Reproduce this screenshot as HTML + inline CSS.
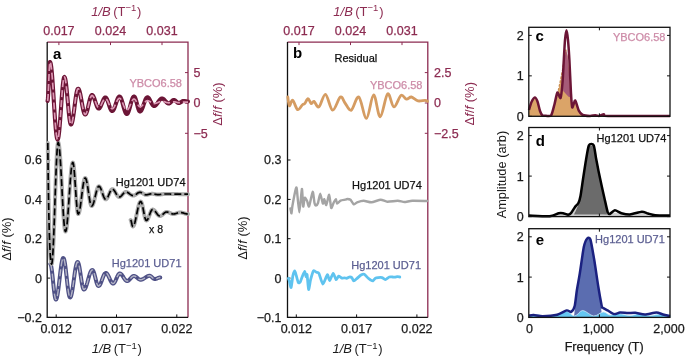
<!DOCTYPE html>
<html><head><meta charset="utf-8"><style>
html,body{margin:0;padding:0;background:#fff;width:685px;height:356px;overflow:hidden;}
svg{display:block;will-change:transform;}
text{font-family:"Liberation Sans", sans-serif;}
</style></head><body>
<svg width="685" height="356" viewBox="0 0 685 356" font-family='"Liberation Sans", sans-serif'><path d="M47.2 42.1 H188 V317.4" fill="none" stroke="#8c2b51" stroke-width="1.3"/>
<path d="M47.2 42.1 V317.4 H188" fill="none" stroke="#111" stroke-width="1.3"/>
<path d="M47.2 160 h3" stroke="#111" stroke-width="1"/>
<path d="M47.2 199.4 h3" stroke="#111" stroke-width="1"/>
<path d="M47.2 238.7 h3" stroke="#111" stroke-width="1"/>
<path d="M47.2 278.1 h3" stroke="#111" stroke-width="1"/>
<path d="M47.2 317.4 h3" stroke="#111" stroke-width="1"/>
<path d="M56.2 317.4 v-3" stroke="#111" stroke-width="1"/>
<path d="M116.5 317.4 v-3" stroke="#111" stroke-width="1"/>
<path d="M176.8 317.4 v-3" stroke="#111" stroke-width="1"/>
<path d="M58.9 42.1 v3" stroke="#8c2b51" stroke-width="1"/>
<path d="M110.5 42.1 v3" stroke="#8c2b51" stroke-width="1"/>
<path d="M162 42.1 v3" stroke="#8c2b51" stroke-width="1"/>
<path d="M188 72.6 h-3" stroke="#8c2b51" stroke-width="1"/>
<path d="M188 103 h-3" stroke="#8c2b51" stroke-width="1"/>
<path d="M188 133.3 h-3" stroke="#8c2b51" stroke-width="1"/>
<path d="M50.3 264 L50.65 264.34 L51 265.35 L51.35 266.99 L51.7 269.2 L52.05 271.89 L52.4 274.96 L52.75 278.29 L53.1 281.75 L53.45 285.21 L53.8 288.54 L54.15 291.61 L54.5 294.3 L54.85 296.51 L55.2 298.15 L55.55 299.16 L55.9 299.5 L56.25 299.27 L56.6 298.58 L56.96 297.45 L57.31 295.89 L57.66 293.96 L58.01 291.69 L58.37 289.12 L58.72 286.33 L59.07 283.37 L59.42 280.3 L59.78 277.2 L60.13 274.13 L60.48 271.17 L60.83 268.38 L61.19 265.81 L61.54 263.54 L61.89 261.61 L62.24 260.05 L62.6 258.92 L62.95 258.23 L63.3 258 L63.66 258.27 L64.02 259.07 L64.37 260.38 L64.73 262.16 L65.09 264.37 L65.45 266.95 L65.81 269.82 L66.16 272.9 L66.52 276.12 L66.88 279.38 L67.24 282.6 L67.59 285.68 L67.95 288.55 L68.31 291.13 L68.67 293.34 L69.03 295.12 L69.38 296.43 L69.74 297.23 L70.1 297.5 L70.46 297.3 L70.81 296.71 L71.17 295.74 L71.53 294.42 L71.89 292.76 L72.24 290.82 L72.6 288.62 L72.96 286.23 L73.31 283.7 L73.67 281.08 L74.03 278.42 L74.39 275.8 L74.74 273.27 L75.1 270.88 L75.46 268.68 L75.81 266.74 L76.17 265.08 L76.53 263.76 L76.89 262.79 L77.24 262.2 L77.6 262 L77.95 262.21 L78.3 262.83 L78.65 263.84 L79 265.22 L79.35 266.91 L79.7 268.88 L80.05 271.05 L80.4 273.36 L80.75 275.75 L81.1 278.14 L81.45 280.45 L81.8 282.62 L82.15 284.59 L82.5 286.28 L82.85 287.66 L83.2 288.67 L83.55 289.29 L83.9 289.5 L84.27 289.41 L84.63 289.14 L85 288.69 L85.36 288.08 L85.73 287.31 L86.09 286.4 L86.46 285.37 L86.82 284.24 L87.19 283.02 L87.55 281.73 L87.92 280.42 L88.28 279.08 L88.65 277.77 L89.01 276.48 L89.38 275.26 L89.74 274.13 L90.11 273.1 L90.47 272.19 L90.84 271.42 L91.2 270.81 L91.57 270.36 L91.93 270.09 L92.3 270 L92.66 270.14 L93.03 270.54 L93.39 271.2 L93.76 272.09 L94.12 273.18 L94.49 274.43 L94.85 275.81 L95.22 277.26 L95.58 278.74 L95.95 280.19 L96.31 281.57 L96.68 282.82 L97.04 283.91 L97.41 284.8 L97.77 285.46 L98.14 285.86 L98.5 286 L98.86 285.92 L99.23 285.68 L99.59 285.29 L99.96 284.76 L100.33 284.1 L100.69 283.32 L101.05 282.45 L101.42 281.51 L101.78 280.52 L102.15 279.5 L102.52 278.48 L102.88 277.49 L103.25 276.55 L103.61 275.68 L103.97 274.9 L104.34 274.24 L104.7 273.71 L105.07 273.32 L105.44 273.08 L105.8 273 L106.16 273.06 L106.53 273.26 L106.89 273.57 L107.26 274 L107.62 274.54 L107.99 275.16 L108.35 275.87 L108.72 276.63 L109.08 277.43 L109.45 278.25 L109.81 279.07 L110.18 279.87 L110.55 280.63 L110.91 281.34 L111.27 281.96 L111.64 282.5 L112 282.93 L112.37 283.24 L112.73 283.44 L113.1 283.5 L113.45 283.43 L113.81 283.23 L114.16 282.9 L114.51 282.45 L114.86 281.89 L115.22 281.23 L115.57 280.51 L115.92 279.73 L116.27 278.91 L116.63 278.09 L116.98 277.27 L117.33 276.49 L117.68 275.77 L118.04 275.11 L118.39 274.55 L118.74 274.1 L119.09 273.77 L119.45 273.57 L119.8 273.5 L120.16 273.55 L120.53 273.68 L120.89 273.91 L121.26 274.22 L121.62 274.6 L121.99 275.05 L122.35 275.55 L122.72 276.09 L123.08 276.66 L123.45 277.25 L123.81 277.84 L124.18 278.41 L124.55 278.95 L124.91 279.45 L125.27 279.9 L125.64 280.28 L126 280.59 L126.37 280.82 L126.73 280.95 L127.1 281 L127.46 280.97 L127.82 280.86 L128.17 280.7 L128.53 280.47 L128.89 280.19 L129.25 279.87 L129.61 279.5 L129.96 279.11 L130.32 278.71 L130.68 278.29 L131.04 277.89 L131.39 277.5 L131.75 277.13 L132.11 276.81 L132.47 276.53 L132.83 276.3 L133.18 276.14 L133.54 276.03 L133.9 276 L134.25 276.03 L134.61 276.1 L134.96 276.22 L135.31 276.39 L135.66 276.6 L136.02 276.84 L136.37 277.11 L136.72 277.4 L137.07 277.7 L137.43 278 L137.78 278.3 L138.13 278.59 L138.48 278.86 L138.84 279.1 L139.19 279.31 L139.54 279.48 L139.89 279.6 L140.25 279.67 L140.6 279.7 L140.96 279.68 L141.32 279.64 L141.68 279.56 L142.04 279.46 L142.4 279.33 L142.76 279.17 L143.12 278.99 L143.48 278.79 L143.84 278.58 L144.2 278.35 L144.56 278.12 L144.92 277.87 L145.28 277.63 L145.64 277.38 L146 277.15 L146.36 276.92 L146.72 276.71 L147.08 276.51 L147.44 276.33 L147.8 276.17 L148.16 276.04 L148.52 275.94 L148.88 275.86 L149.24 275.82 L149.6 275.8 L149.96 275.84 L150.33 275.96 L150.69 276.15 L151.06 276.4 L151.42 276.71 L151.79 277.04 L152.15 277.4 L152.51 277.76 L152.88 278.09 L153.24 278.4 L153.61 278.65 L153.97 278.84 L154.34 278.96 L154.7 279 L155.05 278.99 L155.4 278.94 L155.75 278.87 L156.1 278.78 L156.45 278.67 L156.8 278.54 L157.15 278.4 L157.5 278.25 L157.85 278.1 L158.2 277.96 L158.55 277.83 L158.9 277.72 L159.25 277.63 L159.6 277.56 L159.95 277.51 L160.3 277.5" fill="none" stroke="#4f5186" stroke-width="4.0" stroke-linejoin="round" stroke-linecap="round"/>
<path d="M50.3 264 L50.65 264.34 L51 265.35 L51.35 266.99 L51.7 269.2 L52.05 271.89 L52.4 274.96 L52.75 278.29 L53.1 281.75 L53.45 285.21 L53.8 288.54 L54.15 291.61 L54.5 294.3 L54.85 296.51 L55.2 298.15 L55.55 299.16 L55.9 299.5 L56.25 299.27 L56.6 298.58 L56.96 297.45 L57.31 295.89 L57.66 293.96 L58.01 291.69 L58.37 289.12 L58.72 286.33 L59.07 283.37 L59.42 280.3 L59.78 277.2 L60.13 274.13 L60.48 271.17 L60.83 268.38 L61.19 265.81 L61.54 263.54 L61.89 261.61 L62.24 260.05 L62.6 258.92 L62.95 258.23 L63.3 258 L63.66 258.27 L64.02 259.07 L64.37 260.38 L64.73 262.16 L65.09 264.37 L65.45 266.95 L65.81 269.82 L66.16 272.9 L66.52 276.12 L66.88 279.38 L67.24 282.6 L67.59 285.68 L67.95 288.55 L68.31 291.13 L68.67 293.34 L69.03 295.12 L69.38 296.43 L69.74 297.23 L70.1 297.5 L70.46 297.3 L70.81 296.71 L71.17 295.74 L71.53 294.42 L71.89 292.76 L72.24 290.82 L72.6 288.62 L72.96 286.23 L73.31 283.7 L73.67 281.08 L74.03 278.42 L74.39 275.8 L74.74 273.27 L75.1 270.88 L75.46 268.68 L75.81 266.74 L76.17 265.08 L76.53 263.76 L76.89 262.79 L77.24 262.2 L77.6 262 L77.95 262.21 L78.3 262.83 L78.65 263.84 L79 265.22 L79.35 266.91 L79.7 268.88 L80.05 271.05 L80.4 273.36 L80.75 275.75 L81.1 278.14 L81.45 280.45 L81.8 282.62 L82.15 284.59 L82.5 286.28 L82.85 287.66 L83.2 288.67 L83.55 289.29 L83.9 289.5 L84.27 289.41 L84.63 289.14 L85 288.69 L85.36 288.08 L85.73 287.31 L86.09 286.4 L86.46 285.37 L86.82 284.24 L87.19 283.02 L87.55 281.73 L87.92 280.42 L88.28 279.08 L88.65 277.77 L89.01 276.48 L89.38 275.26 L89.74 274.13 L90.11 273.1 L90.47 272.19 L90.84 271.42 L91.2 270.81 L91.57 270.36 L91.93 270.09 L92.3 270 L92.66 270.14 L93.03 270.54 L93.39 271.2 L93.76 272.09 L94.12 273.18 L94.49 274.43 L94.85 275.81 L95.22 277.26 L95.58 278.74 L95.95 280.19 L96.31 281.57 L96.68 282.82 L97.04 283.91 L97.41 284.8 L97.77 285.46 L98.14 285.86 L98.5 286 L98.86 285.92 L99.23 285.68 L99.59 285.29 L99.96 284.76 L100.33 284.1 L100.69 283.32 L101.05 282.45 L101.42 281.51 L101.78 280.52 L102.15 279.5 L102.52 278.48 L102.88 277.49 L103.25 276.55 L103.61 275.68 L103.97 274.9 L104.34 274.24 L104.7 273.71 L105.07 273.32 L105.44 273.08 L105.8 273 L106.16 273.06 L106.53 273.26 L106.89 273.57 L107.26 274 L107.62 274.54 L107.99 275.16 L108.35 275.87 L108.72 276.63 L109.08 277.43 L109.45 278.25 L109.81 279.07 L110.18 279.87 L110.55 280.63 L110.91 281.34 L111.27 281.96 L111.64 282.5 L112 282.93 L112.37 283.24 L112.73 283.44 L113.1 283.5 L113.45 283.43 L113.81 283.23 L114.16 282.9 L114.51 282.45 L114.86 281.89 L115.22 281.23 L115.57 280.51 L115.92 279.73 L116.27 278.91 L116.63 278.09 L116.98 277.27 L117.33 276.49 L117.68 275.77 L118.04 275.11 L118.39 274.55 L118.74 274.1 L119.09 273.77 L119.45 273.57 L119.8 273.5 L120.16 273.55 L120.53 273.68 L120.89 273.91 L121.26 274.22 L121.62 274.6 L121.99 275.05 L122.35 275.55 L122.72 276.09 L123.08 276.66 L123.45 277.25 L123.81 277.84 L124.18 278.41 L124.55 278.95 L124.91 279.45 L125.27 279.9 L125.64 280.28 L126 280.59 L126.37 280.82 L126.73 280.95 L127.1 281 L127.46 280.97 L127.82 280.86 L128.17 280.7 L128.53 280.47 L128.89 280.19 L129.25 279.87 L129.61 279.5 L129.96 279.11 L130.32 278.71 L130.68 278.29 L131.04 277.89 L131.39 277.5 L131.75 277.13 L132.11 276.81 L132.47 276.53 L132.83 276.3 L133.18 276.14 L133.54 276.03 L133.9 276 L134.25 276.03 L134.61 276.1 L134.96 276.22 L135.31 276.39 L135.66 276.6 L136.02 276.84 L136.37 277.11 L136.72 277.4 L137.07 277.7 L137.43 278 L137.78 278.3 L138.13 278.59 L138.48 278.86 L138.84 279.1 L139.19 279.31 L139.54 279.48 L139.89 279.6 L140.25 279.67 L140.6 279.7 L140.96 279.68 L141.32 279.64 L141.68 279.56 L142.04 279.46 L142.4 279.33 L142.76 279.17 L143.12 278.99 L143.48 278.79 L143.84 278.58 L144.2 278.35 L144.56 278.12 L144.92 277.87 L145.28 277.63 L145.64 277.38 L146 277.15 L146.36 276.92 L146.72 276.71 L147.08 276.51 L147.44 276.33 L147.8 276.17 L148.16 276.04 L148.52 275.94 L148.88 275.86 L149.24 275.82 L149.6 275.8 L149.96 275.84 L150.33 275.96 L150.69 276.15 L151.06 276.4 L151.42 276.71 L151.79 277.04 L152.15 277.4 L152.51 277.76 L152.88 278.09 L153.24 278.4 L153.61 278.65 L153.97 278.84 L154.34 278.96 L154.7 279 L155.05 278.99 L155.4 278.94 L155.75 278.87 L156.1 278.78 L156.45 278.67 L156.8 278.54 L157.15 278.4 L157.5 278.25 L157.85 278.1 L158.2 277.96 L158.55 277.83 L158.9 277.72 L159.25 277.63 L159.6 277.56 L159.95 277.51 L160.3 277.5" fill="none" stroke="#b4b5c6" stroke-width="1.4" stroke-dasharray="7 3" stroke-linejoin="round"/>
<path d="M47.8 143 L47.8 143.19 L47.81 143.74 L47.81 144.67 L47.82 145.96 L47.84 147.61 L47.86 149.59 L47.88 151.92 L47.91 154.55 L47.94 157.5 L47.98 160.72 L48.02 164.21 L48.07 167.94 L48.12 171.89 L48.18 176.03 L48.24 180.35 L48.31 184.8 L48.38 189.38 L48.46 194.04 L48.54 198.75 L48.63 203.5 L48.72 208.25 L48.82 212.96 L48.92 217.62 L49.04 222.2 L49.15 226.65 L49.27 230.97 L49.4 235.11 L49.53 239.06 L49.67 242.79 L49.82 246.28 L49.97 249.5 L50.13 252.45 L50.29 255.08 L50.46 257.41 L50.63 259.39 L50.81 261.04 L51 262.33 L51.19 263.26 L51.39 263.81 L51.6 264 L51.77 263.81 L51.93 263.25 L52.09 262.32 L52.26 261.03 L52.43 259.38 L52.59 257.38 L52.76 255.05 L52.92 252.4 L53.09 249.44 L53.25 246.21 L53.41 242.7 L53.58 238.96 L53.75 234.99 L53.91 230.83 L54.08 226.5 L54.24 222.02 L54.41 217.43 L54.57 212.75 L54.73 208.02 L54.9 203.25 L55.07 198.48 L55.23 193.75 L55.4 189.07 L55.56 184.48 L55.73 180 L55.89 175.67 L56.05 171.51 L56.22 167.54 L56.39 163.8 L56.55 160.29 L56.72 157.06 L56.88 154.1 L57.05 151.45 L57.21 149.12 L57.38 147.12 L57.54 145.47 L57.71 144.18 L57.87 143.25 L58.04 142.69 L58.2 142.5 L58.45 142.76 L58.7 143.54 L58.96 144.83 L59.21 146.61 L59.46 148.87 L59.71 151.57 L59.96 154.69 L60.21 158.19 L60.47 162.03 L60.72 166.16 L60.97 170.53 L61.22 175.09 L61.47 179.8 L61.72 184.59 L61.98 189.41 L62.23 194.2 L62.48 198.91 L62.73 203.47 L62.98 207.84 L63.23 211.97 L63.49 215.81 L63.74 219.31 L63.99 222.43 L64.24 225.13 L64.49 227.39 L64.74 229.17 L65 230.46 L65.25 231.24 L65.5 231.5 L65.82 231.18 L66.13 230.22 L66.45 228.64 L66.77 226.48 L67.09 223.76 L67.4 220.55 L67.72 216.9 L68.04 212.87 L68.36 208.55 L68.67 204.02 L68.99 199.35 L69.31 194.65 L69.63 189.98 L69.94 185.45 L70.26 181.13 L70.58 177.1 L70.9 173.45 L71.21 170.24 L71.53 167.52 L71.85 165.36 L72.17 163.78 L72.48 162.82 L72.8 162.5 L73.12 162.94 L73.44 164.24 L73.75 166.36 L74.07 169.22 L74.39 172.73 L74.71 176.77 L75.02 181.2 L75.34 185.87 L75.66 190.63 L75.98 195.3 L76.29 199.73 L76.61 203.77 L76.93 207.28 L77.25 210.14 L77.56 212.26 L77.88 213.56 L78.2 214 L78.55 213.78 L78.9 213.12 L79.25 212.04 L79.6 210.56 L79.95 208.73 L80.3 206.58 L80.65 204.17 L81 201.56 L81.35 198.82 L81.7 196 L82.05 193.18 L82.4 190.44 L82.75 187.83 L83.1 185.42 L83.45 183.27 L83.8 181.44 L84.15 179.96 L84.5 178.88 L84.85 178.22 L85.2 178 L85.56 178.21 L85.92 178.84 L86.28 179.88 L86.64 181.28 L87.01 183 L87.37 185 L87.73 187.21 L88.09 189.57 L88.45 192 L88.81 194.43 L89.17 196.79 L89.53 199 L89.89 201 L90.26 202.72 L90.62 204.12 L90.98 205.16 L91.34 205.79 L91.7 206 L92.06 205.88 L92.42 205.52 L92.78 204.93 L93.14 204.12 L93.5 203.12 L93.86 201.94 L94.22 200.62 L94.58 199.19 L94.94 197.69 L95.3 196.15 L95.66 194.61 L96.02 193.11 L96.38 191.68 L96.74 190.36 L97.1 189.18 L97.46 188.18 L97.82 187.37 L98.18 186.78 L98.54 186.42 L98.9 186.3 L99.26 186.39 L99.62 186.65 L99.97 187.08 L100.33 187.67 L100.69 188.4 L101.05 189.24 L101.41 190.19 L101.76 191.2 L102.12 192.26 L102.48 193.34 L102.84 194.4 L103.19 195.41 L103.55 196.36 L103.91 197.2 L104.27 197.93 L104.63 198.52 L104.98 198.95 L105.34 199.21 L105.7 199.3 L106.05 199.23 L106.41 199.03 L106.76 198.69 L107.11 198.24 L107.46 197.67 L107.82 197.01 L108.17 196.28 L108.52 195.49 L108.87 194.67 L109.23 193.83 L109.58 193.01 L109.93 192.22 L110.28 191.49 L110.64 190.83 L110.99 190.26 L111.34 189.81 L111.69 189.47 L112.05 189.27 L112.4 189.2 L112.76 189.25 L113.12 189.41 L113.47 189.67 L113.83 190.02 L114.19 190.46 L114.55 190.97 L114.91 191.53 L115.26 192.14 L115.62 192.78 L115.98 193.42 L116.34 194.06 L116.69 194.67 L117.05 195.23 L117.41 195.74 L117.77 196.18 L118.13 196.53 L118.48 196.79 L118.84 196.95 L119.2 197 L119.55 196.97 L119.91 196.86 L120.26 196.7 L120.61 196.47 L120.96 196.19 L121.32 195.87 L121.67 195.5 L122.02 195.11 L122.37 194.71 L122.73 194.29 L123.08 193.89 L123.43 193.5 L123.78 193.13 L124.14 192.81 L124.49 192.53 L124.84 192.3 L125.19 192.14 L125.55 192.03 L125.9 192 L126.27 192.02 L126.63 192.09 L127 192.2 L127.36 192.34 L127.72 192.53 L128.09 192.74 L128.46 192.98 L128.82 193.24 L129.19 193.52 L129.55 193.8 L129.91 194.08 L130.28 194.36 L130.64 194.62 L131.01 194.86 L131.38 195.07 L131.74 195.26 L132.1 195.4 L132.47 195.51 L132.83 195.58 L133.2 195.6 L133.56 195.58 L133.92 195.51 L134.27 195.4 L134.63 195.25 L134.99 195.07 L135.35 194.85 L135.71 194.61 L136.06 194.36 L136.42 194.09 L136.78 193.81 L137.14 193.54 L137.49 193.29 L137.85 193.05 L138.21 192.83 L138.57 192.65 L138.93 192.5 L139.28 192.39 L139.64 192.32 L140 192.3 L140.35 192.32 L140.71 192.38 L141.06 192.49 L141.41 192.63 L141.76 192.8 L142.12 192.99 L142.47 193.21 L142.82 193.43 L143.18 193.67 L143.53 193.89 L143.88 194.11 L144.24 194.3 L144.59 194.47 L144.94 194.61 L145.29 194.72 L145.65 194.78 L146 194.8 L146.35 194.79 L146.71 194.77 L147.06 194.73 L147.41 194.67 L147.76 194.6 L148.12 194.52 L148.47 194.44 L148.82 194.35 L149.18 194.25 L149.53 194.16 L149.88 194.08 L150.24 194 L150.59 193.93 L150.94 193.87 L151.29 193.83 L151.65 193.81 L152 193.8 L152.35 193.81 L152.71 193.83 L153.06 193.86 L153.41 193.9 L153.76 193.96 L154.12 194.02 L154.47 194.09 L154.82 194.16 L155.18 194.24 L155.53 194.31 L155.88 194.38 L156.24 194.44 L156.59 194.5 L156.94 194.54 L157.29 194.57 L157.65 194.59 L158 194.6 L158.35 194.6 L158.7 194.59 L159.05 194.57 L159.4 194.54 L159.75 194.51 L160.1 194.48 L160.45 194.44 L160.8 194.39 L161.15 194.35 L161.5 194.3 L161.85 194.25 L162.2 194.21 L162.55 194.16 L162.9 194.12 L163.25 194.09 L163.6 194.06 L163.95 194.03 L164.3 194.01 L164.65 194 L165 194 L165.35 194 L165.71 194 L166.06 194 L166.42 194 L166.77 194 L167.12 194 L167.48 194.01 L167.83 194.01 L168.18 194.01 L168.54 194.01 L168.89 194.01 L169.25 194.02 L169.6 194.02 L169.95 194.02 L170.31 194.03 L170.66 194.03 L171.02 194.03 L171.37 194.04 L171.72 194.04 L172.08 194.04 L172.43 194.05 L172.78 194.05 L173.14 194.06 L173.49 194.06 L173.85 194.06 L174.2 194.07 L174.55 194.07 L174.91 194.08 L175.26 194.08 L175.62 194.09 L175.97 194.09 L176.32 194.1 L176.68 194.1 L177.03 194.11 L177.38 194.11 L177.74 194.12 L178.09 194.12 L178.45 194.13 L178.8 194.13 L179.15 194.14 L179.51 194.14 L179.86 194.14 L180.22 194.15 L180.57 194.15 L180.92 194.16 L181.28 194.16 L181.63 194.16 L181.98 194.17 L182.34 194.17 L182.69 194.17 L183.05 194.18 L183.4 194.18 L183.75 194.18 L184.11 194.19 L184.46 194.19 L184.82 194.19 L185.17 194.19 L185.52 194.19 L185.88 194.2 L186.23 194.2 L186.58 194.2 L186.94 194.2 L187.29 194.2 L187.65 194.2 L188 194.2" fill="none" stroke="#ababab" stroke-width="4.0" stroke-linejoin="round" stroke-linecap="round"/>
<path d="M47.8 143 L47.8 143.19 L47.81 143.74 L47.81 144.67 L47.82 145.96 L47.84 147.61 L47.86 149.59 L47.88 151.92 L47.91 154.55 L47.94 157.5 L47.98 160.72 L48.02 164.21 L48.07 167.94 L48.12 171.89 L48.18 176.03 L48.24 180.35 L48.31 184.8 L48.38 189.38 L48.46 194.04 L48.54 198.75 L48.63 203.5 L48.72 208.25 L48.82 212.96 L48.92 217.62 L49.04 222.2 L49.15 226.65 L49.27 230.97 L49.4 235.11 L49.53 239.06 L49.67 242.79 L49.82 246.28 L49.97 249.5 L50.13 252.45 L50.29 255.08 L50.46 257.41 L50.63 259.39 L50.81 261.04 L51 262.33 L51.19 263.26 L51.39 263.81 L51.6 264 L51.77 263.81 L51.93 263.25 L52.09 262.32 L52.26 261.03 L52.43 259.38 L52.59 257.38 L52.76 255.05 L52.92 252.4 L53.09 249.44 L53.25 246.21 L53.41 242.7 L53.58 238.96 L53.75 234.99 L53.91 230.83 L54.08 226.5 L54.24 222.02 L54.41 217.43 L54.57 212.75 L54.73 208.02 L54.9 203.25 L55.07 198.48 L55.23 193.75 L55.4 189.07 L55.56 184.48 L55.73 180 L55.89 175.67 L56.05 171.51 L56.22 167.54 L56.39 163.8 L56.55 160.29 L56.72 157.06 L56.88 154.1 L57.05 151.45 L57.21 149.12 L57.38 147.12 L57.54 145.47 L57.71 144.18 L57.87 143.25 L58.04 142.69 L58.2 142.5 L58.45 142.76 L58.7 143.54 L58.96 144.83 L59.21 146.61 L59.46 148.87 L59.71 151.57 L59.96 154.69 L60.21 158.19 L60.47 162.03 L60.72 166.16 L60.97 170.53 L61.22 175.09 L61.47 179.8 L61.72 184.59 L61.98 189.41 L62.23 194.2 L62.48 198.91 L62.73 203.47 L62.98 207.84 L63.23 211.97 L63.49 215.81 L63.74 219.31 L63.99 222.43 L64.24 225.13 L64.49 227.39 L64.74 229.17 L65 230.46 L65.25 231.24 L65.5 231.5 L65.82 231.18 L66.13 230.22 L66.45 228.64 L66.77 226.48 L67.09 223.76 L67.4 220.55 L67.72 216.9 L68.04 212.87 L68.36 208.55 L68.67 204.02 L68.99 199.35 L69.31 194.65 L69.63 189.98 L69.94 185.45 L70.26 181.13 L70.58 177.1 L70.9 173.45 L71.21 170.24 L71.53 167.52 L71.85 165.36 L72.17 163.78 L72.48 162.82 L72.8 162.5 L73.12 162.94 L73.44 164.24 L73.75 166.36 L74.07 169.22 L74.39 172.73 L74.71 176.77 L75.02 181.2 L75.34 185.87 L75.66 190.63 L75.98 195.3 L76.29 199.73 L76.61 203.77 L76.93 207.28 L77.25 210.14 L77.56 212.26 L77.88 213.56 L78.2 214 L78.55 213.78 L78.9 213.12 L79.25 212.04 L79.6 210.56 L79.95 208.73 L80.3 206.58 L80.65 204.17 L81 201.56 L81.35 198.82 L81.7 196 L82.05 193.18 L82.4 190.44 L82.75 187.83 L83.1 185.42 L83.45 183.27 L83.8 181.44 L84.15 179.96 L84.5 178.88 L84.85 178.22 L85.2 178 L85.56 178.21 L85.92 178.84 L86.28 179.88 L86.64 181.28 L87.01 183 L87.37 185 L87.73 187.21 L88.09 189.57 L88.45 192 L88.81 194.43 L89.17 196.79 L89.53 199 L89.89 201 L90.26 202.72 L90.62 204.12 L90.98 205.16 L91.34 205.79 L91.7 206 L92.06 205.88 L92.42 205.52 L92.78 204.93 L93.14 204.12 L93.5 203.12 L93.86 201.94 L94.22 200.62 L94.58 199.19 L94.94 197.69 L95.3 196.15 L95.66 194.61 L96.02 193.11 L96.38 191.68 L96.74 190.36 L97.1 189.18 L97.46 188.18 L97.82 187.37 L98.18 186.78 L98.54 186.42 L98.9 186.3 L99.26 186.39 L99.62 186.65 L99.97 187.08 L100.33 187.67 L100.69 188.4 L101.05 189.24 L101.41 190.19 L101.76 191.2 L102.12 192.26 L102.48 193.34 L102.84 194.4 L103.19 195.41 L103.55 196.36 L103.91 197.2 L104.27 197.93 L104.63 198.52 L104.98 198.95 L105.34 199.21 L105.7 199.3 L106.05 199.23 L106.41 199.03 L106.76 198.69 L107.11 198.24 L107.46 197.67 L107.82 197.01 L108.17 196.28 L108.52 195.49 L108.87 194.67 L109.23 193.83 L109.58 193.01 L109.93 192.22 L110.28 191.49 L110.64 190.83 L110.99 190.26 L111.34 189.81 L111.69 189.47 L112.05 189.27 L112.4 189.2 L112.76 189.25 L113.12 189.41 L113.47 189.67 L113.83 190.02 L114.19 190.46 L114.55 190.97 L114.91 191.53 L115.26 192.14 L115.62 192.78 L115.98 193.42 L116.34 194.06 L116.69 194.67 L117.05 195.23 L117.41 195.74 L117.77 196.18 L118.13 196.53 L118.48 196.79 L118.84 196.95 L119.2 197 L119.55 196.97 L119.91 196.86 L120.26 196.7 L120.61 196.47 L120.96 196.19 L121.32 195.87 L121.67 195.5 L122.02 195.11 L122.37 194.71 L122.73 194.29 L123.08 193.89 L123.43 193.5 L123.78 193.13 L124.14 192.81 L124.49 192.53 L124.84 192.3 L125.19 192.14 L125.55 192.03 L125.9 192 L126.27 192.02 L126.63 192.09 L127 192.2 L127.36 192.34 L127.72 192.53 L128.09 192.74 L128.46 192.98 L128.82 193.24 L129.19 193.52 L129.55 193.8 L129.91 194.08 L130.28 194.36 L130.64 194.62 L131.01 194.86 L131.38 195.07 L131.74 195.26 L132.1 195.4 L132.47 195.51 L132.83 195.58 L133.2 195.6 L133.56 195.58 L133.92 195.51 L134.27 195.4 L134.63 195.25 L134.99 195.07 L135.35 194.85 L135.71 194.61 L136.06 194.36 L136.42 194.09 L136.78 193.81 L137.14 193.54 L137.49 193.29 L137.85 193.05 L138.21 192.83 L138.57 192.65 L138.93 192.5 L139.28 192.39 L139.64 192.32 L140 192.3 L140.35 192.32 L140.71 192.38 L141.06 192.49 L141.41 192.63 L141.76 192.8 L142.12 192.99 L142.47 193.21 L142.82 193.43 L143.18 193.67 L143.53 193.89 L143.88 194.11 L144.24 194.3 L144.59 194.47 L144.94 194.61 L145.29 194.72 L145.65 194.78 L146 194.8 L146.35 194.79 L146.71 194.77 L147.06 194.73 L147.41 194.67 L147.76 194.6 L148.12 194.52 L148.47 194.44 L148.82 194.35 L149.18 194.25 L149.53 194.16 L149.88 194.08 L150.24 194 L150.59 193.93 L150.94 193.87 L151.29 193.83 L151.65 193.81 L152 193.8 L152.35 193.81 L152.71 193.83 L153.06 193.86 L153.41 193.9 L153.76 193.96 L154.12 194.02 L154.47 194.09 L154.82 194.16 L155.18 194.24 L155.53 194.31 L155.88 194.38 L156.24 194.44 L156.59 194.5 L156.94 194.54 L157.29 194.57 L157.65 194.59 L158 194.6 L158.35 194.6 L158.7 194.59 L159.05 194.57 L159.4 194.54 L159.75 194.51 L160.1 194.48 L160.45 194.44 L160.8 194.39 L161.15 194.35 L161.5 194.3 L161.85 194.25 L162.2 194.21 L162.55 194.16 L162.9 194.12 L163.25 194.09 L163.6 194.06 L163.95 194.03 L164.3 194.01 L164.65 194 L165 194 L165.35 194 L165.71 194 L166.06 194 L166.42 194 L166.77 194 L167.12 194 L167.48 194.01 L167.83 194.01 L168.18 194.01 L168.54 194.01 L168.89 194.01 L169.25 194.02 L169.6 194.02 L169.95 194.02 L170.31 194.03 L170.66 194.03 L171.02 194.03 L171.37 194.04 L171.72 194.04 L172.08 194.04 L172.43 194.05 L172.78 194.05 L173.14 194.06 L173.49 194.06 L173.85 194.06 L174.2 194.07 L174.55 194.07 L174.91 194.08 L175.26 194.08 L175.62 194.09 L175.97 194.09 L176.32 194.1 L176.68 194.1 L177.03 194.11 L177.38 194.11 L177.74 194.12 L178.09 194.12 L178.45 194.13 L178.8 194.13 L179.15 194.14 L179.51 194.14 L179.86 194.14 L180.22 194.15 L180.57 194.15 L180.92 194.16 L181.28 194.16 L181.63 194.16 L181.98 194.17 L182.34 194.17 L182.69 194.17 L183.05 194.18 L183.4 194.18 L183.75 194.18 L184.11 194.19 L184.46 194.19 L184.82 194.19 L185.17 194.19 L185.52 194.19 L185.88 194.2 L186.23 194.2 L186.58 194.2 L186.94 194.2 L187.29 194.2 L187.65 194.2 L188 194.2" fill="none" stroke="#000" stroke-width="1.7" stroke-dasharray="7 3" stroke-linejoin="round"/>
<path d="M130.6 220 L130.97 220.44 L131.33 221.62 L131.7 223.25 L132.07 224.88 L132.43 226.06 L132.8 226.5 L133.16 226.37 L133.52 225.99 L133.88 225.37 L134.24 224.52 L134.6 223.45 L134.95 222.19 L135.31 220.76 L135.67 219.19 L136.03 217.52 L136.39 215.78 L136.75 214 L137.11 212.22 L137.47 210.48 L137.83 208.81 L138.19 207.24 L138.55 205.81 L138.9 204.55 L139.26 203.48 L139.62 202.63 L139.98 202.01 L140.34 201.63 L140.7 201.5 L141.06 201.68 L141.41 202.22 L141.77 203.1 L142.12 204.28 L142.48 205.72 L142.84 207.36 L143.19 209.15 L143.55 211 L143.91 212.85 L144.26 214.64 L144.62 216.28 L144.97 217.72 L145.33 218.9 L145.69 219.78 L146.04 220.32 L146.4 220.5 L146.76 220.41 L147.13 220.13 L147.49 219.68 L147.86 219.06 L148.22 218.31 L148.59 217.45 L148.95 216.51 L149.32 215.51 L149.68 214.49 L150.05 213.49 L150.41 212.55 L150.78 211.69 L151.14 210.94 L151.51 210.32 L151.87 209.87 L152.24 209.59 L152.6 209.5 L152.97 209.54 L153.33 209.66 L153.69 209.85 L154.06 210.12 L154.43 210.45 L154.79 210.84 L155.16 211.27 L155.52 211.75 L155.88 212.24 L156.25 212.75 L156.62 213.26 L156.98 213.75 L157.34 214.23 L157.71 214.66 L158.07 215.05 L158.44 215.38 L158.81 215.65 L159.17 215.84 L159.53 215.96 L159.9 216 L160.25 215.97 L160.61 215.89 L160.96 215.76 L161.31 215.58 L161.66 215.35 L162.02 215.09 L162.37 214.8 L162.72 214.49 L163.07 214.17 L163.43 213.83 L163.78 213.51 L164.13 213.2 L164.48 212.91 L164.84 212.65 L165.19 212.42 L165.54 212.24 L165.89 212.11 L166.25 212.03 L166.6 212 L166.96 212.01 L167.32 212.05 L167.67 212.12 L168.03 212.21 L168.39 212.32 L168.75 212.45 L169.11 212.6 L169.46 212.75 L169.82 212.92 L170.18 213.08 L170.54 213.25 L170.89 213.4 L171.25 213.55 L171.61 213.68 L171.97 213.79 L172.33 213.88 L172.68 213.95 L173.04 213.99 L173.4 214 L173.75 213.99 L174.11 213.96 L174.46 213.91 L174.81 213.84 L175.16 213.76 L175.52 213.66 L175.87 213.55 L176.22 213.43 L176.57 213.31 L176.93 213.19 L177.28 213.07 L177.63 212.95 L177.98 212.84 L178.34 212.74 L178.69 212.66 L179.04 212.59 L179.39 212.54 L179.75 212.51 L180.1 212.5 L180.46 212.51 L180.82 212.53 L181.18 212.57 L181.54 212.62 L181.9 212.68 L182.25 212.76 L182.61 212.84 L182.97 212.94 L183.33 213.04 L183.69 213.14 L184.05 213.25 L184.41 213.36 L184.77 213.46 L185.13 213.56 L185.49 213.66 L185.85 213.74 L186.2 213.82 L186.56 213.88 L186.92 213.93 L187.28 213.97 L187.64 213.99 L188 214" fill="none" stroke="#ababab" stroke-width="4.0" stroke-linejoin="round" stroke-linecap="round"/>
<path d="M130.6 220 L130.97 220.44 L131.33 221.62 L131.7 223.25 L132.07 224.88 L132.43 226.06 L132.8 226.5 L133.16 226.37 L133.52 225.99 L133.88 225.37 L134.24 224.52 L134.6 223.45 L134.95 222.19 L135.31 220.76 L135.67 219.19 L136.03 217.52 L136.39 215.78 L136.75 214 L137.11 212.22 L137.47 210.48 L137.83 208.81 L138.19 207.24 L138.55 205.81 L138.9 204.55 L139.26 203.48 L139.62 202.63 L139.98 202.01 L140.34 201.63 L140.7 201.5 L141.06 201.68 L141.41 202.22 L141.77 203.1 L142.12 204.28 L142.48 205.72 L142.84 207.36 L143.19 209.15 L143.55 211 L143.91 212.85 L144.26 214.64 L144.62 216.28 L144.97 217.72 L145.33 218.9 L145.69 219.78 L146.04 220.32 L146.4 220.5 L146.76 220.41 L147.13 220.13 L147.49 219.68 L147.86 219.06 L148.22 218.31 L148.59 217.45 L148.95 216.51 L149.32 215.51 L149.68 214.49 L150.05 213.49 L150.41 212.55 L150.78 211.69 L151.14 210.94 L151.51 210.32 L151.87 209.87 L152.24 209.59 L152.6 209.5 L152.97 209.54 L153.33 209.66 L153.69 209.85 L154.06 210.12 L154.43 210.45 L154.79 210.84 L155.16 211.27 L155.52 211.75 L155.88 212.24 L156.25 212.75 L156.62 213.26 L156.98 213.75 L157.34 214.23 L157.71 214.66 L158.07 215.05 L158.44 215.38 L158.81 215.65 L159.17 215.84 L159.53 215.96 L159.9 216 L160.25 215.97 L160.61 215.89 L160.96 215.76 L161.31 215.58 L161.66 215.35 L162.02 215.09 L162.37 214.8 L162.72 214.49 L163.07 214.17 L163.43 213.83 L163.78 213.51 L164.13 213.2 L164.48 212.91 L164.84 212.65 L165.19 212.42 L165.54 212.24 L165.89 212.11 L166.25 212.03 L166.6 212 L166.96 212.01 L167.32 212.05 L167.67 212.12 L168.03 212.21 L168.39 212.32 L168.75 212.45 L169.11 212.6 L169.46 212.75 L169.82 212.92 L170.18 213.08 L170.54 213.25 L170.89 213.4 L171.25 213.55 L171.61 213.68 L171.97 213.79 L172.33 213.88 L172.68 213.95 L173.04 213.99 L173.4 214 L173.75 213.99 L174.11 213.96 L174.46 213.91 L174.81 213.84 L175.16 213.76 L175.52 213.66 L175.87 213.55 L176.22 213.43 L176.57 213.31 L176.93 213.19 L177.28 213.07 L177.63 212.95 L177.98 212.84 L178.34 212.74 L178.69 212.66 L179.04 212.59 L179.39 212.54 L179.75 212.51 L180.1 212.5 L180.46 212.51 L180.82 212.53 L181.18 212.57 L181.54 212.62 L181.9 212.68 L182.25 212.76 L182.61 212.84 L182.97 212.94 L183.33 213.04 L183.69 213.14 L184.05 213.25 L184.41 213.36 L184.77 213.46 L185.13 213.56 L185.49 213.66 L185.85 213.74 L186.2 213.82 L186.56 213.88 L186.92 213.93 L187.28 213.97 L187.64 213.99 L188 214" fill="none" stroke="#000" stroke-width="1.7" stroke-dasharray="7 3" stroke-linejoin="round"/>
<path d="M47.5 101 L47.69 100.43 L47.88 98.77 L48.08 96.1 L48.27 92.58 L48.46 88.41 L48.65 83.85 L48.85 79.15 L49.04 74.59 L49.23 70.42 L49.42 66.9 L49.62 64.23 L49.81 62.57 L50 62 L50.3 62.31 L50.61 63.22 L50.91 64.72 L51.22 66.79 L51.52 69.4 L51.82 72.5 L52.13 76.05 L52.43 79.99 L52.74 84.25 L53.04 88.78 L53.34 93.49 L53.65 98.32 L53.95 103.18 L54.26 108.01 L54.56 112.72 L54.86 117.25 L55.17 121.51 L55.47 125.45 L55.78 129 L56.08 132.1 L56.38 134.71 L56.69 136.78 L56.99 138.28 L57.3 139.19 L57.6 139.5 L57.94 139.12 L58.28 137.97 L58.62 136.09 L58.96 133.53 L59.3 130.35 L59.64 126.62 L59.98 122.44 L60.32 117.91 L60.66 113.14 L61 108.25 L61.34 103.36 L61.68 98.59 L62.02 94.06 L62.36 89.88 L62.7 86.15 L63.04 82.97 L63.38 80.41 L63.72 78.53 L64.06 77.38 L64.4 77 L64.77 77.36 L65.13 78.43 L65.5 80.18 L65.87 82.56 L66.23 85.48 L66.6 88.88 L66.97 92.63 L67.33 96.63 L67.7 100.75 L68.07 104.87 L68.43 108.87 L68.8 112.62 L69.17 116.02 L69.53 118.94 L69.9 121.32 L70.27 123.07 L70.63 124.14 L71 124.5 L71.36 124.28 L71.71 123.62 L72.06 122.55 L72.42 121.08 L72.78 119.26 L73.13 117.12 L73.48 114.73 L73.84 112.13 L74.19 109.4 L74.55 106.6 L74.91 103.8 L75.26 101.07 L75.61 98.47 L75.97 96.08 L76.32 93.94 L76.68 92.12 L77.03 90.65 L77.39 89.58 L77.74 88.92 L78.1 88.7 L78.45 88.86 L78.81 89.33 L79.16 90.11 L79.52 91.16 L79.88 92.48 L80.23 94.02 L80.58 95.74 L80.94 97.61 L81.3 99.58 L81.65 101.6 L82 103.62 L82.36 105.59 L82.72 107.46 L83.07 109.18 L83.42 110.72 L83.78 112.04 L84.14 113.09 L84.49 113.87 L84.84 114.34 L85.2 114.5 L85.56 114.37 L85.92 113.97 L86.27 113.32 L86.63 112.44 L86.99 111.35 L87.35 110.08 L87.71 108.67 L88.06 107.14 L88.42 105.56 L88.78 103.94 L89.14 102.36 L89.49 100.83 L89.85 99.42 L90.21 98.15 L90.57 97.06 L90.93 96.18 L91.28 95.53 L91.64 95.13 L92 95 L92.35 95.09 L92.71 95.37 L93.06 95.81 L93.41 96.42 L93.76 97.18 L94.12 98.06 L94.47 99.04 L94.82 100.09 L95.17 101.19 L95.53 102.31 L95.88 103.41 L96.23 104.46 L96.58 105.44 L96.94 106.32 L97.29 107.08 L97.64 107.69 L97.99 108.13 L98.35 108.41 L98.7 108.5 L99.05 108.42 L99.41 108.2 L99.76 107.84 L100.11 107.34 L100.46 106.73 L100.82 106.01 L101.17 105.21 L101.52 104.35 L101.87 103.45 L102.23 102.55 L102.58 101.65 L102.93 100.79 L103.28 99.99 L103.64 99.27 L103.99 98.66 L104.34 98.16 L104.69 97.8 L105.05 97.58 L105.4 97.5 L105.76 97.59 L106.12 97.87 L106.47 98.31 L106.83 98.92 L107.19 99.68 L107.55 100.56 L107.91 101.54 L108.26 102.59 L108.62 103.69 L108.98 104.81 L109.34 105.91 L109.69 106.96 L110.05 107.94 L110.41 108.82 L110.77 109.58 L111.13 110.19 L111.48 110.63 L111.84 110.91 L112.2 111 L112.56 110.91 L112.93 110.65 L113.3 110.21 L113.66 109.62 L114.03 108.88 L114.39 108.01 L114.75 107.04 L115.12 105.99 L115.48 104.88 L115.85 103.75 L116.22 102.62 L116.58 101.51 L116.95 100.46 L117.31 99.49 L117.67 98.62 L118.04 97.88 L118.41 97.29 L118.77 96.85 L119.14 96.59 L119.5 96.5 L119.86 96.61 L120.23 96.93 L120.59 97.45 L120.96 98.17 L121.33 99.06 L121.69 100.11 L122.05 101.28 L122.42 102.55 L122.78 103.88 L123.15 105.25 L123.52 106.62 L123.88 107.95 L124.25 109.22 L124.61 110.39 L124.97 111.44 L125.34 112.33 L125.7 113.05 L126.07 113.57 L126.44 113.89 L126.8 114 L127.16 113.89 L127.52 113.57 L127.88 113.05 L128.24 112.33 L128.6 111.44 L128.96 110.39 L129.32 109.22 L129.68 107.95 L130.04 106.62 L130.4 105.25 L130.76 103.88 L131.12 102.55 L131.48 101.28 L131.84 100.11 L132.2 99.06 L132.56 98.17 L132.92 97.45 L133.28 96.93 L133.64 96.61 L134 96.5 L134.35 96.63 L134.71 97.01 L135.06 97.62 L135.41 98.46 L135.76 99.48 L136.12 100.66 L136.47 101.95 L136.82 103.31 L137.18 104.69 L137.53 106.05 L137.88 107.34 L138.24 108.52 L138.59 109.54 L138.94 110.38 L139.29 110.99 L139.65 111.37 L140 111.5 L140.35 111.42 L140.7 111.18 L141.06 110.8 L141.41 110.27 L141.76 109.6 L142.11 108.83 L142.47 107.95 L142.82 106.99 L143.17 105.98 L143.52 104.93 L143.88 103.87 L144.23 102.82 L144.58 101.81 L144.93 100.85 L145.29 99.97 L145.64 99.2 L145.99 98.53 L146.34 98 L146.7 97.62 L147.05 97.38 L147.4 97.3 L147.75 97.36 L148.11 97.54 L148.46 97.82 L148.81 98.22 L149.16 98.7 L149.52 99.27 L149.87 99.9 L150.22 100.58 L150.57 101.29 L150.93 102.01 L151.28 102.72 L151.63 103.4 L151.98 104.03 L152.34 104.6 L152.69 105.08 L153.04 105.48 L153.39 105.76 L153.75 105.94 L154.1 106 L154.46 105.96 L154.82 105.85 L155.18 105.66 L155.54 105.4 L155.9 105.08 L156.25 104.71 L156.61 104.28 L156.97 103.81 L157.33 103.31 L157.69 102.78 L158.05 102.25 L158.41 101.72 L158.77 101.19 L159.13 100.69 L159.49 100.22 L159.85 99.79 L160.2 99.42 L160.56 99.1 L160.92 98.84 L161.28 98.65 L161.64 98.54 L162 98.5 L162.35 98.53 L162.71 98.64 L163.06 98.8 L163.41 99.03 L163.76 99.31 L164.12 99.63 L164.47 100 L164.82 100.39 L165.17 100.79 L165.53 101.21 L165.88 101.61 L166.23 102 L166.58 102.37 L166.94 102.69 L167.29 102.97 L167.64 103.2 L167.99 103.36 L168.35 103.47 L168.7 103.5 L169.06 103.46 L169.43 103.33 L169.79 103.12 L170.16 102.84 L170.52 102.51 L170.89 102.14 L171.25 101.75 L171.61 101.36 L171.98 100.99 L172.34 100.66 L172.71 100.38 L173.07 100.17 L173.44 100.04 L173.8 100 L174.16 100.04 L174.51 100.15 L174.87 100.33 L175.23 100.56 L175.59 100.85 L175.94 101.17 L176.3 101.5 L176.66 101.83 L177.01 102.15 L177.37 102.44 L177.73 102.67 L178.09 102.85 L178.44 102.96 L178.8 103 L179.16 102.97 L179.52 102.89 L179.88 102.75 L180.25 102.57 L180.61 102.35 L180.97 102.12 L181.33 101.88 L181.69 101.65 L182.05 101.43 L182.42 101.25 L182.78 101.11 L183.14 101.03 L183.5 101 L183.88 101.01 L184.25 101.03 L184.62 101.07 L185 101.12 L185.38 101.19 L185.75 101.25 L186.12 101.31 L186.5 101.38 L186.88 101.43 L187.25 101.47 L187.62 101.49 L188 101.5" fill="none" stroke="#6c1536" stroke-width="4.1" stroke-linejoin="round" stroke-linecap="round"/>
<path d="M47.5 101 L47.69 100.43 L47.88 98.77 L48.08 96.1 L48.27 92.58 L48.46 88.41 L48.65 83.85 L48.85 79.15 L49.04 74.59 L49.23 70.42 L49.42 66.9 L49.62 64.23 L49.81 62.57 L50 62 L50.3 62.31 L50.61 63.22 L50.91 64.72 L51.22 66.79 L51.52 69.4 L51.82 72.5 L52.13 76.05 L52.43 79.99 L52.74 84.25 L53.04 88.78 L53.34 93.49 L53.65 98.32 L53.95 103.18 L54.26 108.01 L54.56 112.72 L54.86 117.25 L55.17 121.51 L55.47 125.45 L55.78 129 L56.08 132.1 L56.38 134.71 L56.69 136.78 L56.99 138.28 L57.3 139.19 L57.6 139.5 L57.94 139.12 L58.28 137.97 L58.62 136.09 L58.96 133.53 L59.3 130.35 L59.64 126.62 L59.98 122.44 L60.32 117.91 L60.66 113.14 L61 108.25 L61.34 103.36 L61.68 98.59 L62.02 94.06 L62.36 89.88 L62.7 86.15 L63.04 82.97 L63.38 80.41 L63.72 78.53 L64.06 77.38 L64.4 77 L64.77 77.36 L65.13 78.43 L65.5 80.18 L65.87 82.56 L66.23 85.48 L66.6 88.88 L66.97 92.63 L67.33 96.63 L67.7 100.75 L68.07 104.87 L68.43 108.87 L68.8 112.62 L69.17 116.02 L69.53 118.94 L69.9 121.32 L70.27 123.07 L70.63 124.14 L71 124.5 L71.36 124.28 L71.71 123.62 L72.06 122.55 L72.42 121.08 L72.78 119.26 L73.13 117.12 L73.48 114.73 L73.84 112.13 L74.19 109.4 L74.55 106.6 L74.91 103.8 L75.26 101.07 L75.61 98.47 L75.97 96.08 L76.32 93.94 L76.68 92.12 L77.03 90.65 L77.39 89.58 L77.74 88.92 L78.1 88.7 L78.45 88.86 L78.81 89.33 L79.16 90.11 L79.52 91.16 L79.88 92.48 L80.23 94.02 L80.58 95.74 L80.94 97.61 L81.3 99.58 L81.65 101.6 L82 103.62 L82.36 105.59 L82.72 107.46 L83.07 109.18 L83.42 110.72 L83.78 112.04 L84.14 113.09 L84.49 113.87 L84.84 114.34 L85.2 114.5 L85.56 114.37 L85.92 113.99 L86.27 113.36 L86.63 112.5 L86.99 111.43 L87.35 110.2 L87.71 108.82 L88.06 107.33 L88.42 105.78 L88.78 104.22 L89.14 102.67 L89.49 101.18 L89.85 99.8 L90.21 98.57 L90.57 97.5 L90.93 96.64 L91.28 96.01 L91.64 95.63 L92 95.5 L92.35 95.58 L92.71 95.82 L93.06 96.22 L93.41 96.76 L93.76 97.43 L94.12 98.2 L94.47 99.07 L94.82 100 L95.17 100.97 L95.53 101.96 L95.88 102.93 L96.23 103.86 L96.58 104.73 L96.94 105.5 L97.29 106.17 L97.64 106.71 L97.99 107.11 L98.35 107.35 L98.7 107.43 L99.05 107.37 L99.41 107.19 L99.76 106.9 L100.11 106.5 L100.46 106.01 L100.82 105.44 L101.17 104.8 L101.52 104.11 L101.87 103.4 L102.23 102.67 L102.58 101.95 L102.93 101.27 L103.28 100.63 L103.64 100.05 L103.99 99.56 L104.34 99.17 L104.69 98.87 L105.05 98.69 L105.4 98.64 L105.76 98.7 L106.12 98.91 L106.47 99.25 L106.83 99.7 L107.19 100.27 L107.55 100.93 L107.91 101.67 L108.26 102.46 L108.62 103.29 L108.98 104.13 L109.34 104.95 L109.69 105.75 L110.05 106.48 L110.41 107.14 L110.77 107.71 L111.13 108.17 L111.48 108.51 L111.84 108.71 L112.2 108.78 L112.56 108.72 L112.93 108.52 L113.3 108.21 L113.66 107.78 L114.03 107.24 L114.39 106.62 L114.75 105.92 L115.12 105.16 L115.48 104.35 L115.85 103.53 L116.22 102.71 L116.58 101.91 L116.95 101.15 L117.31 100.45 L117.67 99.82 L118.04 99.29 L118.41 98.86 L118.77 98.54 L119.14 98.35 L119.5 98.28 L119.86 98.36 L120.23 98.58 L120.59 98.93 L120.96 99.42 L121.33 100.02 L121.69 100.73 L122.05 101.53 L122.42 102.39 L122.78 103.29 L123.15 104.22 L123.52 105.15 L123.88 106.06 L124.25 106.92 L124.61 107.71 L124.97 108.42 L125.34 109.03 L125.7 109.51 L126.07 109.87 L126.44 110.09 L126.8 110.16 L127.16 110.09 L127.52 109.89 L127.88 109.55 L128.24 109.1 L128.6 108.53 L128.96 107.86 L129.32 107.12 L129.68 106.31 L130.04 105.46 L130.4 104.59 L130.76 103.72 L131.12 102.87 L131.48 102.06 L131.84 101.32 L132.2 100.65 L132.56 100.08 L132.92 99.63 L133.28 99.29 L133.64 99.09 L134 99.02 L134.35 99.09 L134.71 99.28 L135.06 99.6 L135.41 100.03 L135.76 100.56 L136.12 101.17 L136.47 101.84 L136.82 102.54 L137.18 103.26 L137.53 103.96 L137.88 104.63 L138.24 105.23 L138.59 105.76 L138.94 106.19 L139.29 106.51 L139.65 106.71 L140 106.78 L140.35 106.74 L140.7 106.64 L141.06 106.47 L141.41 106.25 L141.76 105.96 L142.11 105.63 L142.47 105.26 L142.82 104.85 L143.17 104.41 L143.52 103.97 L143.88 103.51 L144.23 103.06 L144.58 102.63 L144.93 102.22 L145.29 101.85 L145.64 101.51 L145.99 101.23 L146.34 101 L146.7 100.84 L147.05 100.74 L147.4 100.7 L147.75 100.72 L148.11 100.78 L148.46 100.87 L148.81 101 L149.16 101.16 L149.52 101.35 L149.87 101.55 L150.22 101.78 L150.57 102.01 L150.93 102.24 L151.28 102.48 L151.63 102.7 L151.98 102.91 L152.34 103.09 L152.69 103.25 L153.04 103.38 L153.39 103.47 L153.75 103.53 L154.1 103.55 L154.46 103.54 L154.82 103.5 L155.18 103.45 L155.54 103.37 L155.9 103.28 L156.25 103.16 L156.61 103.03 L156.97 102.89 L157.33 102.74 L157.69 102.59 L158.05 102.42 L158.41 102.26 L158.77 102.11 L159.13 101.96 L159.49 101.82 L159.85 101.69 L160.2 101.57 L160.56 101.48 L160.92 101.4 L161.28 101.35 L161.64 101.31 L162 101.3 L162.35 101.31 L162.71 101.34 L163.06 101.39 L163.41 101.46 L163.76 101.54 L164.12 101.64 L164.47 101.75 L164.82 101.87 L165.17 101.99 L165.53 102.11 L165.88 102.23 L166.23 102.35 L166.58 102.46 L166.94 102.56 L167.29 102.64 L167.64 102.71 L167.99 102.76 L168.35 102.79 L168.7 102.8 L169.06 102.79 L169.43 102.75 L169.79 102.69 L170.16 102.6 L170.52 102.5 L170.89 102.39 L171.25 102.28 L171.61 102.16 L171.98 102.05 L172.34 101.95 L172.71 101.86 L173.07 101.8 L173.44 101.76 L173.8 101.75 L174.16 101.76 L174.51 101.79 L174.87 101.85 L175.23 101.92 L175.59 102 L175.94 102.1 L176.3 102.2 L176.66 102.3 L177.01 102.4 L177.37 102.48 L177.73 102.55 L178.09 102.61 L178.44 102.64 L178.8 102.65 L179.16 102.64 L179.52 102.62 L179.88 102.57 L180.25 102.52 L180.61 102.46 L180.97 102.39 L181.33 102.31 L181.69 102.24 L182.05 102.18 L182.42 102.13 L182.78 102.08 L183.14 102.06 L183.5 102.05 L183.88 102.05 L184.25 102.06 L184.62 102.07 L185 102.09 L185.38 102.11 L185.75 102.12 L186.12 102.14 L186.5 102.16 L186.88 102.18 L187.25 102.19 L187.62 102.2 L188 102.2" fill="none" stroke="#dc98b4" stroke-width="1.7" stroke-dasharray="7 3" stroke-linejoin="round"/>
<text x="42" y="164.4" font-size="12.5" fill="#1a1a1a" stroke="#1a1a1a" stroke-width="0.25" text-anchor="end" font-weight="normal" font-style="normal" >0.6</text>
<text x="42" y="203.8" font-size="12.5" fill="#1a1a1a" stroke="#1a1a1a" stroke-width="0.25" text-anchor="end" font-weight="normal" font-style="normal" >0.4</text>
<text x="42" y="243.1" font-size="12.5" fill="#1a1a1a" stroke="#1a1a1a" stroke-width="0.25" text-anchor="end" font-weight="normal" font-style="normal" >0.2</text>
<text x="42" y="282.5" font-size="12.5" fill="#1a1a1a" stroke="#1a1a1a" stroke-width="0.25" text-anchor="end" font-weight="normal" font-style="normal" >0</text>
<text x="42" y="321.8" font-size="12.5" fill="#1a1a1a" stroke="#1a1a1a" stroke-width="0.25" text-anchor="end" font-weight="normal" font-style="normal" >−0.2</text>
<text x="56.2" y="332.5" font-size="12.5" fill="#1a1a1a" stroke="#1a1a1a" stroke-width="0.25" text-anchor="middle" font-weight="normal" font-style="normal" >0.012</text>
<text x="116.5" y="332.5" font-size="12.5" fill="#1a1a1a" stroke="#1a1a1a" stroke-width="0.25" text-anchor="middle" font-weight="normal" font-style="normal" >0.017</text>
<text x="176.8" y="332.5" font-size="12.5" fill="#1a1a1a" stroke="#1a1a1a" stroke-width="0.25" text-anchor="middle" font-weight="normal" font-style="normal" >0.022</text>
<text x="58.9" y="35" font-size="12.5" fill="#8c2b51" stroke="#8c2b51" stroke-width="0.25" text-anchor="middle" font-weight="normal" font-style="normal" >0.017</text>
<text x="110.5" y="35" font-size="12.5" fill="#8c2b51" stroke="#8c2b51" stroke-width="0.25" text-anchor="middle" font-weight="normal" font-style="normal" >0.024</text>
<text x="162" y="35" font-size="12.5" fill="#8c2b51" stroke="#8c2b51" stroke-width="0.25" text-anchor="middle" font-weight="normal" font-style="normal" >0.031</text>
<text x="193.5" y="77" font-size="12.5" fill="#8c2b51" stroke="#8c2b51" stroke-width="0.25" text-anchor="start" font-weight="normal" font-style="normal" >5</text>
<text x="193.5" y="107.4" font-size="12.5" fill="#8c2b51" stroke="#8c2b51" stroke-width="0.25" text-anchor="start" font-weight="normal" font-style="normal" >0</text>
<text x="193.5" y="137.7" font-size="12.5" fill="#8c2b51" stroke="#8c2b51" stroke-width="0.25" text-anchor="start" font-weight="normal" font-style="normal" >−5</text>
<text x="116.3" y="15.6" font-size="13" fill="#8c2b51" text-anchor="middle"><tspan font-style="italic">1/B</tspan><tspan dx="-1.2"> (T</tspan><tspan font-size="9.5" dy="-4.2">−1</tspan><tspan dx="0.8" dy="4.2">)</tspan></text>
<text x="116.8" y="352.8" font-size="13" fill="#1a1a1a" text-anchor="middle"><tspan font-style="italic">1/B</tspan><tspan dx="-1.2"> (T</tspan><tspan font-size="9.5" dy="-4.2">−1</tspan><tspan dx="0.8" dy="4.2">)</tspan></text>
<text transform="translate(11 239) rotate(-90)" x="0" y="0" font-size="13" fill="#1a1a1a" text-anchor="middle">Δ<tspan font-style="italic">f</tspan>/<tspan font-style="italic">f</tspan> (%)</text>
<text transform="translate(222.1 104) rotate(-90)" x="0" y="0" font-size="13" fill="#8c2b51" text-anchor="middle">Δ<tspan font-style="italic">f</tspan>/<tspan font-style="italic">f</tspan> (%)</text>
<text x="53" y="59" font-size="15" fill="#000" text-anchor="start" font-weight="bold" font-style="normal" >a</text>
<text x="182" y="87" font-size="11" fill="#cd8ca8" stroke="#cd8ca8" stroke-width="0.25" text-anchor="end" font-weight="normal" font-style="normal" >YBCO6.58</text>
<text x="185.5" y="186" font-size="11" fill="#111" stroke="#111" stroke-width="0.25" text-anchor="end" font-weight="normal" font-style="normal" >Hg1201 UD74</text>
<text x="181.5" y="266.8" font-size="11" fill="#5c5f92" stroke="#5c5f92" stroke-width="0.25" text-anchor="end" font-weight="normal" font-style="normal" >Hg1201 UD71</text>
<text x="149" y="233" font-size="10.5" fill="#111" stroke="#111" stroke-width="0.25" text-anchor="start" font-weight="normal" font-style="normal" >x 8</text>
<path d="M287.5 42.1 H427.8 V317.4" fill="none" stroke="#8c2b51" stroke-width="1.3"/>
<path d="M287.5 42.1 V317.4 H427.8" fill="none" stroke="#111" stroke-width="1.3"/>
<path d="M287.5 160 h3" stroke="#111" stroke-width="1"/>
<path d="M287.5 199.4 h3" stroke="#111" stroke-width="1"/>
<path d="M287.5 238.7 h3" stroke="#111" stroke-width="1"/>
<path d="M287.5 278.1 h3" stroke="#111" stroke-width="1"/>
<path d="M287.5 317.4 h3" stroke="#111" stroke-width="1"/>
<path d="M296.3 317.4 v-3" stroke="#111" stroke-width="1"/>
<path d="M356.6 317.4 v-3" stroke="#111" stroke-width="1"/>
<path d="M416.9 317.4 v-3" stroke="#111" stroke-width="1"/>
<path d="M299 42.1 v3" stroke="#8c2b51" stroke-width="1"/>
<path d="M350.5 42.1 v3" stroke="#8c2b51" stroke-width="1"/>
<path d="M402 42.1 v3" stroke="#8c2b51" stroke-width="1"/>
<path d="M427.8 72.6 h-3" stroke="#8c2b51" stroke-width="1"/>
<path d="M427.8 103 h-3" stroke="#8c2b51" stroke-width="1"/>
<path d="M427.8 133.3 h-3" stroke="#8c2b51" stroke-width="1"/>
<path d="M287.8 97 C288.07 98.47 288.58 105.25 289.4 105.8 C290.22 106.35 291.33 99.67 292.7 100.3 C294.07 100.93 295.97 108.87 297.6 109.6 C299.23 110.33 301.32 105.7 302.5 104.7 C303.68 103.7 303.78 104.6 304.7 103.6 C305.62 102.6 306.9 98.7 308 98.7 C309.1 98.7 310.3 103.15 311.3 103.6 C312.3 104.05 312.72 100.85 314 101.4 C315.28 101.95 317.08 108.08 319 106.9 C320.92 105.72 323.23 93.75 325.5 94.3 C327.77 94.85 330.13 109.75 332.6 110.2 C335.07 110.65 338.23 98.2 340.3 97 C342.37 95.8 343.17 100.8 345 103 C346.83 105.2 349 111.2 351.3 110.2 C353.6 109.2 356.27 95.63 358.8 97 C361.33 98.37 364.03 118.75 366.5 118.4 C368.97 118.05 371.32 95.17 373.6 94.9 C375.88 94.63 377.87 116.98 380.2 116.8 C382.53 116.62 385.32 95.45 387.6 93.8 C389.88 92.15 391.67 106.63 393.9 106.9 C396.13 107.17 398.9 96.68 401 95.4 C403.1 94.12 404.77 98.93 406.5 99.2 C408.23 99.47 409.48 96.72 411.4 97 C413.32 97.28 415.72 100.35 418 100.9 C420.28 101.45 423.52 100.22 425.1 100.3 C426.68 100.38 427.1 101.22 427.5 101.4" fill="none" stroke="#d59c62" stroke-width="2.8" stroke-linejoin="round" stroke-linecap="round"/>
<path d="M290.4 208.5 C290.51 208.99 291.3 213.65 291.5 213.4 C291.7 213.15 291.97 208.45 292.4 206 C292.83 203.55 295.36 190.6 295.8 188.9 C296.24 187.2 296.45 186.65 296.8 189 C297.15 191.35 298.79 212.41 299.3 212.4 C299.81 212.39 301.51 189.49 301.9 188.9 C302.29 188.31 302.92 205.62 303.2 206.5 C303.48 207.38 304.31 198.25 304.7 197.7 C305.09 197.15 306.66 200.12 307.1 201 C307.54 201.88 308.54 207.42 309.1 206.5 C309.66 205.58 312.16 192.15 312.7 191.8 C313.24 191.45 314.17 201.62 314.5 203 C314.83 204.38 315.65 205.6 316 205.6 C316.35 205.6 317.58 204.18 318 203 C318.42 201.82 319.71 193.74 320.2 193.8 C320.69 193.86 322.49 203.06 322.9 203.6 C323.31 204.14 323.96 199.06 324.3 199.2 C324.64 199.34 325.81 205.45 326.3 205 C326.79 204.55 328.71 194.4 329.2 194.7 C329.69 195 330.75 207.21 331.2 208 C331.65 208.79 333.23 203.48 333.7 202.6 C334.17 201.72 335.56 199.1 335.9 199.2 C336.24 199.3 336.63 203.46 337.1 203.6 C337.57 203.74 339.78 200.99 340.6 200.6 C341.42 200.21 344.64 199.86 345.3 199.7 C345.96 199.54 346.68 199 347.2 199 C347.72 199 349.84 199.17 350.5 199.7 C351.16 200.23 353.14 204.04 353.8 204.3 C354.46 204.56 356.11 202.65 357.1 202.3 C358.09 201.95 362.26 200.8 363.7 200.8 C365.14 200.8 369.8 202.41 371.5 202.3 C373.2 202.19 379.12 199.76 380.7 199.7 C382.28 199.64 385.59 201.59 387.3 201.7 C389.01 201.81 396.09 200.77 397.8 200.8 C399.51 200.83 402.95 202 404.4 202 C405.85 202 410.04 200.9 412.3 200.8 C414.56 200.7 425.53 200.98 427 201" fill="none" stroke="#a4a4a4" stroke-width="2.4" stroke-linejoin="round" stroke-linecap="round"/>
<path d="M288.4 278.2 C288.5 278.49 289.13 280.17 289.4 281.1 C289.67 282.03 290.75 288.04 291.1 287.5 C291.45 286.96 292.53 277.37 292.9 275.7 C293.27 274.03 294.46 270.8 294.8 270.8 C295.14 270.8 295.95 274.52 296.3 275.7 C296.65 276.88 297.91 281.96 298.3 282.6 C298.69 283.24 299.81 282.69 300.2 282.1 C300.59 281.51 301.75 277.78 302.2 276.7 C302.65 275.62 304.31 271.3 304.7 271.3 C305.09 271.3 305.86 276.36 306.1 276.7 C306.34 277.04 306.85 273.42 307.1 274.7 C307.35 275.98 308.25 289 308.6 289.5 C308.95 290 310.11 281.57 310.6 279.7 C311.09 277.83 312.91 271.54 313.5 270.8 C314.09 270.06 315.96 272.05 316.5 272.3 C317.04 272.55 318.26 272.12 318.9 273.3 C319.54 274.48 322.06 283.96 322.9 284.1 C323.74 284.24 326.62 275.05 327.3 274.7 C327.98 274.35 329.11 280.74 329.7 280.6 C330.29 280.46 332.56 273.39 333.2 273.3 C333.84 273.21 335.56 279.41 336.1 279.7 C336.64 279.99 338.01 276.35 338.6 276.2 C339.19 276.05 341.43 278.04 342 278.2 C342.57 278.36 343.84 277.78 344.3 277.79 C344.76 277.8 346.11 278.37 346.6 278.3 C347.09 278.23 348.68 277.11 349.2 277.04 C349.72 276.97 351.34 277.21 351.8 277.6 C352.26 277.99 353.27 280.83 353.8 280.9 C354.33 280.97 356.38 278.89 357.1 278.3 C357.82 277.71 360.28 275.4 361 275 C361.72 274.6 363.57 273.97 364.3 274.3 C365.03 274.63 367.67 277.73 368.3 278.3 C368.93 278.87 370.14 279.73 370.6 279.99 C371.06 280.25 372.41 281.09 372.9 280.9 C373.39 280.71 374.98 278.47 375.5 278.14 C376.02 277.81 377.45 277.65 378.1 277.6 C378.75 277.55 381.28 277.4 382 277.6 C382.72 277.8 384.57 279.66 385.3 279.6 C386.03 279.54 388.57 277.26 389.3 277 C390.03 276.74 392.03 276.99 392.6 277 C393.17 277.01 394.52 277.13 395 277.09 C395.48 277.06 396.92 276.66 397.4 276.65 C397.88 276.64 399.56 276.97 399.8 277" fill="none" stroke="#5fc3ef" stroke-width="2.8" stroke-linejoin="round" stroke-linecap="round"/>
<text x="281.5" y="164.4" font-size="12.5" fill="#1a1a1a" stroke="#1a1a1a" stroke-width="0.25" text-anchor="end" font-weight="normal" font-style="normal" >0.3</text>
<text x="281.5" y="203.8" font-size="12.5" fill="#1a1a1a" stroke="#1a1a1a" stroke-width="0.25" text-anchor="end" font-weight="normal" font-style="normal" >0.2</text>
<text x="281.5" y="243.1" font-size="12.5" fill="#1a1a1a" stroke="#1a1a1a" stroke-width="0.25" text-anchor="end" font-weight="normal" font-style="normal" >0.1</text>
<text x="281.5" y="282.5" font-size="12.5" fill="#1a1a1a" stroke="#1a1a1a" stroke-width="0.25" text-anchor="end" font-weight="normal" font-style="normal" >0</text>
<text x="281.5" y="321.8" font-size="12.5" fill="#1a1a1a" stroke="#1a1a1a" stroke-width="0.25" text-anchor="end" font-weight="normal" font-style="normal" >−0.1</text>
<text x="296.3" y="332.5" font-size="12.5" fill="#1a1a1a" stroke="#1a1a1a" stroke-width="0.25" text-anchor="middle" font-weight="normal" font-style="normal" >0.012</text>
<text x="356.6" y="332.5" font-size="12.5" fill="#1a1a1a" stroke="#1a1a1a" stroke-width="0.25" text-anchor="middle" font-weight="normal" font-style="normal" >0.017</text>
<text x="416.9" y="332.5" font-size="12.5" fill="#1a1a1a" stroke="#1a1a1a" stroke-width="0.25" text-anchor="middle" font-weight="normal" font-style="normal" >0.022</text>
<text x="299" y="35" font-size="12.5" fill="#8c2b51" stroke="#8c2b51" stroke-width="0.25" text-anchor="middle" font-weight="normal" font-style="normal" >0.017</text>
<text x="350.5" y="35" font-size="12.5" fill="#8c2b51" stroke="#8c2b51" stroke-width="0.25" text-anchor="middle" font-weight="normal" font-style="normal" >0.024</text>
<text x="402" y="35" font-size="12.5" fill="#8c2b51" stroke="#8c2b51" stroke-width="0.25" text-anchor="middle" font-weight="normal" font-style="normal" >0.031</text>
<text x="434" y="77" font-size="12.5" fill="#8c2b51" stroke="#8c2b51" stroke-width="0.25" text-anchor="start" font-weight="normal" font-style="normal" >2.5</text>
<text x="434" y="107.4" font-size="12.5" fill="#8c2b51" stroke="#8c2b51" stroke-width="0.25" text-anchor="start" font-weight="normal" font-style="normal" >0</text>
<text x="434" y="137.7" font-size="12.5" fill="#8c2b51" stroke="#8c2b51" stroke-width="0.25" text-anchor="start" font-weight="normal" font-style="normal" >−2.5</text>
<text x="358.4" y="15.6" font-size="13" fill="#8c2b51" text-anchor="middle"><tspan font-style="italic">1/B</tspan><tspan dx="-1.2"> (T</tspan><tspan font-size="9.5" dy="-4.2">−1</tspan><tspan dx="0.8" dy="4.2">)</tspan></text>
<text x="357.6" y="352.8" font-size="13" fill="#1a1a1a" text-anchor="middle"><tspan font-style="italic">1/B</tspan><tspan dx="-1.2"> (T</tspan><tspan font-size="9.5" dy="-4.2">−1</tspan><tspan dx="0.8" dy="4.2">)</tspan></text>
<text transform="translate(247.3 238) rotate(-90)" x="0" y="0" font-size="13" fill="#1a1a1a" text-anchor="middle">Δ<tspan font-style="italic">f</tspan>/<tspan font-style="italic">f</tspan> (%)</text>
<text transform="translate(474.3 103.7) rotate(-90)" x="0" y="0" font-size="13" fill="#8c2b51" text-anchor="middle">Δ<tspan font-style="italic">f</tspan>/<tspan font-style="italic">f</tspan> (%)</text>
<text x="293" y="58" font-size="15" fill="#000" text-anchor="start" font-weight="bold" font-style="normal" >b</text>
<text x="334.5" y="61.8" font-size="11" fill="#111" stroke="#111" stroke-width="0.25" text-anchor="start" font-weight="normal" font-style="normal" >Residual</text>
<text x="422.5" y="88.5" font-size="11" fill="#cd8ca8" stroke="#cd8ca8" stroke-width="0.25" text-anchor="end" font-weight="normal" font-style="normal" >YBCO6.58</text>
<text x="421.8" y="188.5" font-size="11" fill="#111" stroke="#111" stroke-width="0.25" text-anchor="end" font-weight="normal" font-style="normal" >Hg1201 UD74</text>
<text x="421" y="268.5" font-size="11" fill="#5c5f92" stroke="#5c5f92" stroke-width="0.25" text-anchor="end" font-weight="normal" font-style="normal" >Hg1201 UD71</text>
<path d="M529 116.3 L529 110 L531.5 102 L534.8 98 L537.5 101.5 L540 111 L542.5 115.5 L551.2 115.3 L554.6 104 L557.4 94.5 L558.9 87.5 L560.6 79.5 L562.5 70 L564.5 56 L566 49.5 L567.6 56 L569.5 75 L570.8 92 L572 104 L575.2 101.5 L578.8 111 L582.7 115.5 L590 116.3 Z" fill="#dba468" stroke="none"/>
<path d="M562.5 80 L564.5 56 L566 49.5 L567.6 56 L570.7 97.5 L568.5 96.8 L563.2 91 Z" fill="#a65a78" stroke="none"/>
<path d="M557.4 94.5 L558.9 87.5 L560.6 79.5 L562.5 70 L564.5 56 L566 49.5" fill="none" stroke="#c98a4a" stroke-width="1.2" stroke-dasharray="2.5 1.5"/>
<path d="M529 110 C529.29 109.07 530.82 103.46 531.5 102 C532.18 100.54 534.1 97.56 534.8 97.5 C535.5 97.44 536.89 99.92 537.5 101.5 C538.11 103.08 539.42 109.37 540 111 C540.58 112.63 541.8 114.94 542.5 115.5 C543.2 116.06 544.99 115.82 546 115.8 C547.01 115.78 550.2 116.7 551.2 115.3 C552.2 113.9 553.88 106.46 554.6 103.8 C555.32 101.14 556.7 93.18 557.4 92.5 C558.1 91.82 560 99.17 560.6 98 C561.2 96.83 562.13 86.93 562.5 82.5 C562.87 78.07 563.51 64.96 563.8 60 C564.09 55.04 564.68 43.47 565 40 C565.32 36.53 566.15 30.3 566.5 30.3 C566.85 30.3 567.66 36.53 568 40 C568.34 43.47 569.06 53.99 569.4 60 C569.74 66.01 570.57 85.96 570.9 91.5 C571.23 97.04 571.7 106.45 572.2 107.5 C572.7 108.55 574.43 100.14 575.2 100.5 C575.97 100.86 577.92 108.91 578.8 110.6 C579.67 112.29 581.39 114.37 582.7 115 C584.01 115.63 588.52 115.98 590 116 C591.48 116.02 594.35 115.2 595.4 115.2 C596.45 115.2 598.01 116.11 599 116 C599.99 115.89 602.85 114.3 603.9 114.3 C604.95 114.3 600.29 115.8 608 116 C615.71 116.2 662.77 116 670 116" fill="none" stroke="#6c1536" stroke-width="2.5" stroke-linejoin="round"/>
<path d="M529 216.6 L529 215.5 L545 215.8 L556.5 213.5 L565 214.8 L573.3 212 L578 213.8 L584.2 213 L590 214 L595.2 213 L602 214.5 L614 212.5 L625 214.5 L641.8 213 L655 215.5 L670 215.5 L670 216.6 Z" fill="#cfcfcf" stroke="none"/>
<path d="M570.5 214.5 L571 213.2 L574.7 207.4 L577.8 206 L574 214.5 Z" fill="#cfcfcf"/>
<path d="M574 214.5 L577.8 206 L578.6 203 L580.5 196 L583 179.3 L586 160 L588.9 145.8 L593.7 145.8 L596 158 L598.5 170.9 L601.5 185 L604.5 198.4 L606.8 210 L607.5 214.5 Z" fill="#6b6b6b" stroke="none"/>
<path d="M529 215.5 C531.44 215.58 546.43 216.47 549.9 216.2 C553.37 215.93 557.17 213.55 558.7 213.2 C560.23 212.85 561.9 213.02 563 213.2 C564.1 213.38 567.17 214.7 568.1 214.7 C569.03 214.7 570.23 214.05 571 213.2 C571.77 212.35 573.84 208.59 574.7 207.4 C575.56 206.21 577.72 204.33 578.4 203 C579.08 201.67 579.96 198.76 580.5 196 C581.04 193.24 582.36 183.5 583 179.3 C583.64 175.1 585.31 163.97 586 160 C586.69 156.03 588 147.02 588.9 145.3 C589.8 143.59 592.87 143.82 593.7 145.3 C594.53 146.78 595.44 155.01 596 158 C596.56 160.99 597.86 167.75 598.5 170.9 C599.14 174.05 600.8 181.79 601.5 185 C602.2 188.21 603.79 195.27 604.5 198.4 C605.21 201.53 606.98 209.98 607.6 211.8 C608.22 213.62 608.95 214.18 609.8 214 C610.65 213.82 613.55 210.39 614.9 210.3 C616.25 210.21 619.64 212.71 621.4 213.2 C623.16 213.69 627.62 214.68 630 214.5 C632.38 214.32 639.7 211.82 641.8 211.7 C643.9 211.58 646.45 213.09 648 213.5 C649.55 213.91 652.53 214.97 655.1 215.2 C657.67 215.43 668.26 215.47 670 215.5" fill="none" stroke="#000" stroke-width="2.5" stroke-linejoin="round"/>
<path d="M574 317 L576.9 290 L579.8 273.5 L583.8 247.1 L587.2 238.5 L590.4 239.5 L594.3 260.3 L598.3 286.7 L600.5 302 L602 317 Z" fill="#5b6db0" stroke="none"/>
<path d="M529 317.4 C529 317.17 527.7 316.48 529 316 C530.3 315.52 534.13 314.5 536.8 314.5 C539.47 314.5 541.8 315.92 545 316 C548.2 316.08 552.5 315.83 556 315 C559.5 314.17 562.88 310.83 566 311 C569.12 311.17 571.92 316.08 574.7 316 C577.48 315.92 579.53 310.5 582.7 310.5 C585.87 310.5 590.28 315.75 593.7 316 C597.12 316.25 600.48 312.17 603.2 312 C605.92 311.83 607.45 314.75 610 315 C612.55 315.25 615.17 313.42 618.5 313.5 C621.83 313.58 626.42 315.5 630 315.5 C633.58 315.5 636.67 313.5 640 313.5 C643.33 313.5 646.67 315.42 650 315.5 C653.33 315.58 656.67 314 660 314 C663.33 314 668.33 314.93 670 315.5 C671.67 316.07 670 317.08 670 317.4" fill="#66c7f2" stroke="#cfe9f7" stroke-width="0.8"/>
<path d="M529 315.5 C529.56 315.45 532.21 315.01 533.8 315.1 C535.39 315.19 539.87 316.34 542.6 316.3 C545.33 316.26 554.39 315.49 557.2 314.8 C560.01 314.11 565.08 310.74 566.7 310.4 C568.32 310.06 570.17 312.41 571.1 311.9 C572.03 311.39 574.02 308.56 574.7 306 C575.38 303.44 576.3 293.79 576.9 290 C577.5 286.21 579 278.5 579.8 273.5 C580.6 268.5 582.94 251.18 583.8 247.1 C584.66 243.02 586.43 239.39 587.2 238.5 C587.97 237.61 589.57 236.96 590.4 239.5 C591.23 242.04 593.38 254.79 594.3 260.3 C595.22 265.81 597.44 281.37 598.3 286.7 C599.16 292.03 601.23 303.57 601.7 306 C602.17 308.43 601.61 306.99 602.3 307.5 C602.99 308.01 606.22 309.63 607.6 310.4 C608.98 311.17 612.65 313.84 614.1 314.1 C615.55 314.36 618.38 312.73 620 312.6 C621.62 312.47 626.22 312.98 628 313 C629.78 313.02 633.32 312.62 635.3 312.8 C637.28 312.98 642.54 314.54 645 314.5 C647.46 314.46 654.3 312.5 656.4 312.5 C658.5 312.5 661.41 314.09 663 314.5 C664.59 314.91 669.18 315.82 670 316" fill="none" stroke="#1b2180" stroke-width="2.5" stroke-linejoin="round"/>
<rect x="528.8" y="27.3" width="141.2" height="89" fill="none" stroke="#111" stroke-width="1.3"/>
<path d="M528.8 116.3 h3 M670 116.3 h-3" stroke="#111" stroke-width="1"/>
<text x="523.8" y="120.7" font-size="12.5" fill="#1a1a1a" stroke="#1a1a1a" stroke-width="0.25" text-anchor="end" font-weight="normal" font-style="normal" >0</text>
<path d="M528.8 75.85 h3 M670 75.85 h-3" stroke="#111" stroke-width="1"/>
<text x="523.8" y="80.25" font-size="12.5" fill="#1a1a1a" stroke="#1a1a1a" stroke-width="0.25" text-anchor="end" font-weight="normal" font-style="normal" >1</text>
<path d="M528.8 35.4 h3 M670 35.4 h-3" stroke="#111" stroke-width="1"/>
<text x="523.8" y="39.8" font-size="12.5" fill="#1a1a1a" stroke="#1a1a1a" stroke-width="0.25" text-anchor="end" font-weight="normal" font-style="normal" >2</text>
<path d="M599.4 116.3 v-3 M599.4 27.3 v3" stroke="#111" stroke-width="1"/>
<rect x="528.8" y="127.5" width="141.2" height="89.1" fill="none" stroke="#111" stroke-width="1.3"/>
<path d="M528.8 216.6 h3 M670 216.6 h-3" stroke="#111" stroke-width="1"/>
<text x="523.8" y="221" font-size="12.5" fill="#1a1a1a" stroke="#1a1a1a" stroke-width="0.25" text-anchor="end" font-weight="normal" font-style="normal" >0</text>
<path d="M528.8 176.1 h3 M670 176.1 h-3" stroke="#111" stroke-width="1"/>
<text x="523.8" y="180.5" font-size="12.5" fill="#1a1a1a" stroke="#1a1a1a" stroke-width="0.25" text-anchor="end" font-weight="normal" font-style="normal" >1</text>
<path d="M528.8 135.6 h3 M670 135.6 h-3" stroke="#111" stroke-width="1"/>
<text x="523.8" y="140" font-size="12.5" fill="#1a1a1a" stroke="#1a1a1a" stroke-width="0.25" text-anchor="end" font-weight="normal" font-style="normal" >2</text>
<path d="M599.4 216.6 v-3 M599.4 127.5 v3" stroke="#111" stroke-width="1"/>
<rect x="528.8" y="228.7" width="141.2" height="88.7" fill="none" stroke="#111" stroke-width="1.3"/>
<path d="M528.8 317.4 h3 M670 317.4 h-3" stroke="#111" stroke-width="1"/>
<text x="523.8" y="321.8" font-size="12.5" fill="#1a1a1a" stroke="#1a1a1a" stroke-width="0.25" text-anchor="end" font-weight="normal" font-style="normal" >0</text>
<path d="M528.8 277.1 h3 M670 277.1 h-3" stroke="#111" stroke-width="1"/>
<text x="523.8" y="281.5" font-size="12.5" fill="#1a1a1a" stroke="#1a1a1a" stroke-width="0.25" text-anchor="end" font-weight="normal" font-style="normal" >1</text>
<path d="M528.8 236.8 h3 M670 236.8 h-3" stroke="#111" stroke-width="1"/>
<text x="523.8" y="241.2" font-size="12.5" fill="#1a1a1a" stroke="#1a1a1a" stroke-width="0.25" text-anchor="end" font-weight="normal" font-style="normal" >2</text>
<path d="M599.4 317.4 v-3 M599.4 228.7 v3" stroke="#111" stroke-width="1"/>
<text x="535.5" y="41.3" font-size="15" fill="#000" text-anchor="start" font-weight="bold" font-style="normal" >c</text>
<text x="535.8" y="146.3" font-size="15" fill="#000" text-anchor="start" font-weight="bold" font-style="normal" >d</text>
<text x="535.8" y="244.6" font-size="15" fill="#000" text-anchor="start" font-weight="bold" font-style="normal" >e</text>
<text x="665.5" y="41" font-size="11" fill="#cd8ca8" stroke="#cd8ca8" stroke-width="0.25" text-anchor="end" font-weight="normal" font-style="normal" >YBCO6.58</text>
<text x="666.3" y="141.6" font-size="11" fill="#111" stroke="#111" stroke-width="0.25" text-anchor="end" font-weight="normal" font-style="normal" >Hg1201 UD74</text>
<text x="664.8" y="242.5" font-size="11" fill="#5c5f92" stroke="#5c5f92" stroke-width="0.25" text-anchor="end" font-weight="normal" font-style="normal" >Hg1201 UD71</text>
<text x="529.4" y="333" font-size="12.5" fill="#1a1a1a" stroke="#1a1a1a" stroke-width="0.25" text-anchor="middle" font-weight="normal" font-style="normal" >0</text>
<text x="598.4" y="333" font-size="12.5" fill="#1a1a1a" stroke="#1a1a1a" stroke-width="0.25" text-anchor="middle" font-weight="normal" font-style="normal" >1,000</text>
<text x="669" y="333" font-size="12.5" fill="#1a1a1a" stroke="#1a1a1a" stroke-width="0.25" text-anchor="middle" font-weight="normal" font-style="normal" >2,000</text>
<text x="604.2" y="350.8" font-size="12.6" fill="#1a1a1a" stroke="#1a1a1a" stroke-width="0.25" text-anchor="middle" font-weight="normal" font-style="normal" >Frequency (T)</text>
<text transform="translate(506 174.6) rotate(-90)" font-size="12.8" fill="#1a1a1a" text-anchor="middle">Amplitude (arb)</text></svg>
</body></html>
